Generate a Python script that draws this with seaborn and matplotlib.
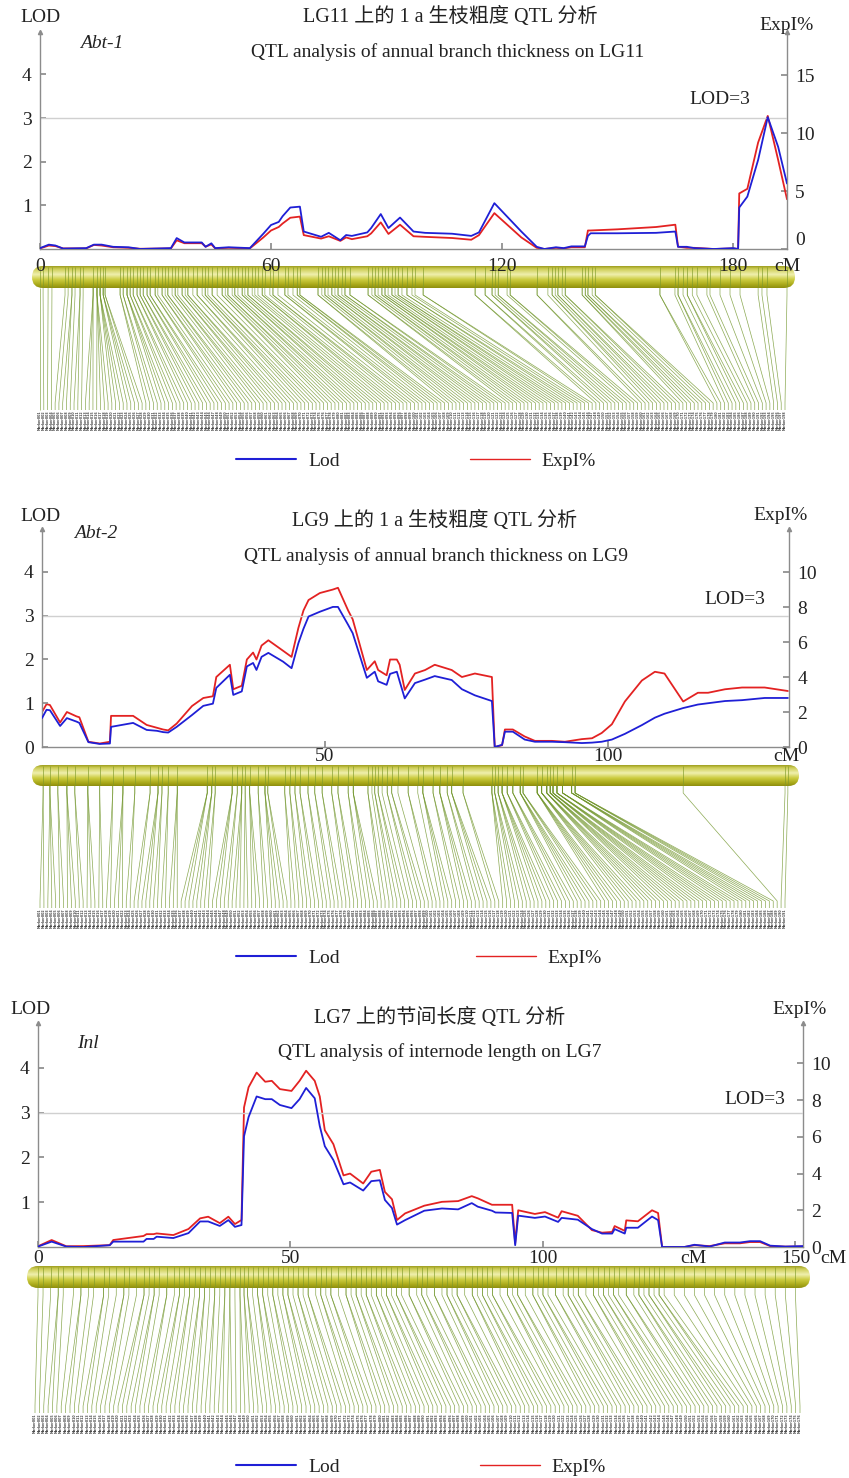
import numpy as np
import matplotlib
matplotlib.use("Agg")
import matplotlib.pyplot as plt
import seaborn as sns
from matplotlib.collections import LineCollection
from matplotlib.patches import FancyBboxPatch
from matplotlib.lines import Line2D

sns.set_theme(style="white")
plt.rcParams["font.family"] = ["Liberation Serif", "Noto Sans CJK SC", "DejaVu Sans"]

# ---------------- data ----------------
# LG11 (Abt-1)
lg11_cm = [0, 2.3, 4, 6, 12, 14, 16, 19, 23, 26, 34, 35.5, 37.5, 42, 43, 44.5, 45.5, 49, 54.5, 58,
           60, 62, 63, 65, 67.5, 68.5, 73, 75, 78, 79.5, 81, 85, 86, 88.5, 90.5, 93.5, 97, 100, 107, 112,
           114, 118, 125, 129, 131, 134, 136, 138, 141.5, 142.3, 143, 150, 160, 165, 165.7, 168, 170, 175, 180, 181.3,
           181.6, 183.7, 186.5, 189, 191.7, 194]
lg11_lod = [0.02, 0.1, 0.08, 0.01, 0.02, 0.1, 0.1, 0.05, 0.04, 0.0, 0.02, 0.25, 0.15, 0.15, 0.05, 0.13, 0.02, 0.04, 0.02, 0.35,
            0.55, 0.62, 0.75, 0.95, 0.97, 0.4, 0.28, 0.37, 0.2, 0.32, 0.3, 0.38, 0.48, 0.8, 0.48, 0.72, 0.4, 0.37, 0.35, 0.3,
            0.38, 1.05, 0.4, 0.05, 0.0, 0.04, 0.02, 0.06, 0.06, 0.3, 0.36, 0.36, 0.37, 0.4, 0.05, 0.05, 0.02, 0.0, 0.02, 0.0,
            0.95, 1.2, 2.04, 3.02, 2.34, 1.5]
lg11_expl = [0.05, 0.3, 0.25, 0.05, 0.05, 0.35, 0.3, 0.15, 0.1, 0.02, 0.05, 0.75, 0.5, 0.5, 0.2, 0.4, 0.05, 0.1, 0.05, 1.0,
             1.6, 1.9, 2.2, 2.7, 2.8, 1.2, 0.9, 1.1, 0.7, 1.0, 0.85, 1.1, 1.35, 2.3, 1.3, 2.1, 1.1, 1.05, 0.95, 0.8,
             1.2, 3.1, 1.0, 0.1, 0.0, 0.1, 0.05, 0.15, 0.15, 1.6, 1.6, 1.7, 1.9, 2.1, 0.2, 0.1, 0.1, 0.0, 0.05, 0.0,
             4.8, 5.2, 9.2, 11.5, 7.7, 4.3]
lg11_markers = [0, 0.8, 2.1, 3.1, 6.5, 7.3, 8.3, 9.1, 10.4, 11.2,
                13.8, 14.8, 15.6, 16.4, 16.9,
                20.8, 21.6, 22.6, 23.4, 24.2, 25.2, 26.0, 26.8, 27.8, 28.6,
                29.9, 30.6, 31.7, 32.5, 33.2, 34.3, 35.1, 35.8, 36.9, 37.7, 38.4, 39.7, 40.8, 42.1,
                42.9, 43.6, 44.7, 46.0, 47.3, 48.1, 48.8, 49.9, 50.6, 51.4, 52.5, 53.2, 54.0,
                55.1, 55.8, 56.6, 57.7, 58.4, 59.7, 60.5, 61.8, 63.6, 64.4, 65.7, 66.8, 67.5,
                72.2, 73.2, 74.0, 74.8, 75.8, 76.6, 77.4, 78.4, 79.2, 80.5,
                85.2, 86.2, 87.0, 87.8, 88.8, 89.6, 90.4, 91.4, 92.2, 93.0, 94.0, 95.3, 96.6, 97.4, 99.5,
                113.0, 115.6, 117.4, 118.2, 119.0, 121.3, 122.1,
                129.1, 131.9, 133.0, 133.8, 134.5, 135.6, 136.4,
                140.8, 141.6, 142.3, 143.4, 144.2,
                161.0, 164.9, 165.7, 167.0, 168.1, 169.4, 170.6, 173.2,
                174.0, 176.6, 179.2, 181.8, 186.5, 187.5, 188.8, 194.0]
lg11_counts = [1, 1, 1, 1, 1, 1, 2, 1, 2, 1,
               3, 4, 4, 3, 2,
               2, 2, 3, 2, 2, 2, 2, 2, 2, 2,
               2, 1, 2, 1, 2, 1, 2, 1, 2, 1, 2, 1, 2, 1,
               2, 1, 2, 1, 2, 1, 2, 1, 2, 1, 2, 1, 2,
               1, 1, 1, 2, 1, 1, 2, 1, 2, 1, 1, 2, 2,
               2, 1, 2, 1, 2, 1, 2, 1, 2, 2,
               2, 1, 2, 1, 2, 2, 1, 2, 1, 2, 1, 2, 1, 1, 2,
               2, 2, 2, 1, 2, 1, 2,
               2, 1, 2, 1, 2, 1, 2,
               2, 2, 2, 1, 2,
               2, 1, 2, 1, 2, 1, 1, 1,
               1, 1, 1, 1, 1, 1, 1, 1]

# LG9 (Abt-2)
lg9_cm = [0, 0.8, 1.4, 3.2, 4.4, 6.1, 6.6, 8.2, 10.2, 12.0,
          12.2, 16.1, 18.5, 20.3, 21.4, 22.3, 23.8, 26.5, 28.5, 30.2,
          30.8, 33.2, 33.8, 35.3, 36.2, 37.3, 37.9, 38.8, 40.0, 42.6,
          44.1, 45.3, 46.2, 47.1, 49.1, 51.4, 52.3, 54.1, 54.9, 57.4,
          58.8, 59.4, 60.9, 61.5, 62.7, 63.2, 64.1, 65.9, 67.7, 69.4,
          72.4, 74.2, 76.5, 79.5, 80.0, 81.3, 81.8, 83.2, 85.3, 87.1,
          90.1, 92.4, 95.4, 97.2, 98.9, 100.7, 103, 106, 108.3, 110,
          113.3, 115.9, 117.7, 120.7, 123.7, 127.7, 131.8]
lg9_lod = [0.66, 0.85, 0.84, 0.48, 0.66, 0.58, 0.55, 0.11, 0.07, 0.08,
           0.46, 0.55, 0.39, 0.37, 0.34, 0.33, 0.46, 0.73, 0.94, 0.99,
           1.35, 1.65, 1.19, 1.27, 1.84, 1.92, 1.76, 2.06, 2.15, 1.95,
           1.8, 2.37, 2.7, 2.98, 3.09, 3.2, 3.2, 2.79, 2.6, 1.58,
           1.72, 1.5, 1.42, 1.67, 1.72, 1.5, 1.11, 1.46, 1.54, 1.62,
           1.53, 1.32, 1.18, 1.05, 0.0, 0.05, 0.35, 0.35, 0.17, 0.12,
           0.12, 0.11, 0.09, 0.1, 0.12, 0.17, 0.3, 0.5, 0.67, 0.76,
           0.89, 0.97, 1.0, 1.05, 1.07, 1.12, 1.12]
lg9_expl = [2.0, 2.45, 2.4, 1.4, 2.0, 1.75, 1.7, 0.3, 0.2, 0.3,
            1.78, 1.78, 1.26, 1.1, 1.0, 0.95, 1.34, 2.34, 2.8, 2.9,
            4.0, 4.7, 3.3, 3.5, 5.0, 5.4, 5.0, 5.8, 6.1, 5.5,
            5.15, 6.8, 7.8, 8.4, 8.8, 9.0, 9.1, 7.8, 7.3, 4.4,
            4.9, 4.4, 4.1, 5.0, 5.0, 4.7, 3.26, 4.2, 4.4, 4.7,
            4.4, 4.0, 4.2, 4.0, 0.0, 0.1, 1.0, 1.0, 0.6, 0.35,
            0.35, 0.3, 0.45, 0.5, 0.8, 1.3, 2.6, 3.8, 4.3, 4.2,
            2.6, 3.1, 3.1, 3.3, 3.4, 3.4, 3.2]
lg9_markers = [0.2, 1.4, 2.8, 4.4, 5.8, 8.1, 10.2, 12.5, 14.3, 16.4, 19.1, 20.5, 21.2, 22.3, 23.9,
               29.2, 30.0, 30.6, 33.6, 34.5, 35.3, 35.9, 36.7, 38.2, 39.4, 39.9,
               42.9, 43.8, 44.7, 45.6, 47.0, 48.2, 49.5, 51.2, 52.3, 54.1, 55.0,
               57.6, 58.3, 58.8, 59.4, 60.1, 61.0, 61.8, 62.9, 64.7, 66.4,
               67.3, 69.1, 70.3, 71.6, 72.4, 74.4,
               79.5, 80.0, 80.6, 81.3, 82.2, 83.2, 84.5, 85.0,
               87.5, 88.3, 89.2, 89.8, 90.3, 91.0, 92.0, 93.6, 94.2,
               113.3, 131.3, 131.8]
lg9_counts = [2, 3, 2, 3, 2, 3, 2, 2, 3, 2, 2, 3, 2, 2, 3,
              3, 3, 2, 3, 2, 3, 2, 3, 2, 3, 2,
              2, 2, 2, 2, 2, 2, 2, 2, 2, 2, 3,
              2, 1, 2, 2, 1, 2, 2, 1, 2, 1,
              3, 2, 3, 2, 3, 2,
              3, 3, 3, 4, 3, 3, 4, 3,
              5, 5, 5, 5, 5, 5, 5, 5, 4,
              1, 1, 1]

# LG7 (Inl)
lg7_cm = [0, 2.7, 5.6, 9, 14.2, 14.9, 20.9, 21.5, 22.9, 23.5,
          26.8, 29.8, 32.1, 33.7, 36, 37.7, 39, 40.3, 40.8, 41.7,
          43.3, 45, 46.3, 47.9, 50.2, 51.8, 53.1, 54.8, 55.8, 56.8,
          58.5, 60.5, 61.8, 64.4, 66, 67.7, 68.7, 70.1, 71.1, 72.7,
          76.5, 80, 83.2, 85.9, 87.1, 89.9, 90.6, 93.9, 94.5, 95.1,
          98.4, 100.4, 103, 103.7, 106.9, 109.7, 111.7, 113.7, 114.2, 116.2,
          116.5, 118.8, 121.6, 122.8, 123.6, 128, 130, 133, 136, 139,
          141, 143, 145, 148, 151.5]
lg7_lod = [0.01, 0.12, 0.01, 0.0, 0.04, 0.12, 0.12, 0.18, 0.18, 0.23,
           0.2, 0.31, 0.57, 0.57, 0.47, 0.6, 0.45, 0.49, 2.47, 2.9,
           3.36, 3.3, 3.3, 3.17, 3.1, 3.3, 3.55, 3.32, 2.7, 2.25,
           1.94, 1.4, 1.44, 1.26, 1.47, 1.49, 1.05, 0.87, 0.5, 0.6,
           0.81, 0.86, 0.84, 0.98, 0.9, 0.81, 0.77, 0.76, 0.04, 0.7,
           0.65, 0.68, 0.56, 0.65, 0.61, 0.4, 0.3, 0.3, 0.4, 0.3,
           0.43, 0.43, 0.68, 0.6, 0.0, 0.0, 0.05, 0.01, 0.1, 0.1,
           0.13, 0.13, 0.03, 0.01, 0.02]
lg7_expl = [0.04, 0.38, 0.04, 0.05, 0.1, 0.38, 0.6, 0.7, 0.7, 0.74,
            0.65, 0.98, 1.56, 1.65, 1.3, 1.65, 1.25, 1.47, 7.6, 8.7,
            9.5, 9.0, 9.05, 8.6, 8.5, 9.05, 9.6, 9.05, 8.2, 6.36,
            5.6, 3.9, 4.0, 3.46, 4.1, 4.2, 3.0, 2.6, 1.47, 1.83,
            2.25, 2.46, 2.5, 2.77, 2.65, 2.3, 2.3, 2.3, 0.2, 2.0,
            1.8, 1.9, 1.6, 1.95, 1.7, 0.92, 0.78, 0.82, 1.14, 0.88,
            1.45, 1.4, 2.0, 1.85, 0.0, 0.0, 0.1, 0.05, 0.2, 0.2,
            0.27, 0.27, 0.05, 0.02, 0.03]
lg7_markers = [0, 1, 2.5, 4, 5, 7, 8.5, 10, 11, 13, 14, 15.5, 17, 18, 19.5, 21, 22, 23, 24, 25.5,
               27, 28, 29, 30, 31, 32, 33, 34, 35, 36, 37, 38, 39, 40, 40.8, 41.5, 42.5, 43.5, 44.5, 45.5,
               46.5, 47.5, 48.5, 49.5, 50.5, 51.5, 52.5, 53.5, 55, 56, 57, 58, 59.5, 61, 62, 63, 64, 65, 66, 67,
               68, 69, 70, 71, 72, 73.5, 75, 76, 77, 78.5, 80, 81, 82, 83, 84.5, 86, 87, 88, 89, 90,
               91.5, 93, 94, 95, 96.5, 98, 99, 100, 101, 102.5, 104, 105, 106, 107, 108.5, 110, 111, 112, 113, 114,
               115, 116.5, 118, 119, 120, 121, 122, 123, 124, 126, 128, 130, 132, 134, 136, 138, 140, 142, 144, 146,
               148, 150]
lg7_counts = [1, 1, 1, 2, 1, 1, 2, 1, 1, 2, 1, 1, 2, 1, 1, 2, 1, 2, 1, 2,
              1, 2, 1, 2, 1, 2, 2, 1, 2, 1, 2, 2, 1, 2, 2, 2, 1, 2, 2, 1,
              2, 1, 2, 2, 1, 2, 1, 2, 1, 2, 1, 2, 1, 2, 1, 2, 1, 2, 1, 2,
              1, 2, 1, 2, 1, 2, 1, 2, 1, 2, 1, 2, 1, 2, 1, 2, 1, 2, 1, 2,
              1, 2, 1, 2, 1, 2, 1, 2, 1, 2, 1, 2, 1, 2, 1, 2, 1, 2, 1, 2,
              1, 2, 1, 2, 1, 2, 1, 2, 1, 1, 1, 1, 1, 1, 1, 1, 1, 1, 1, 1,
              1, 1]

panels = [
    dict(cm=lg11_cm, lod=lg11_lod, expl=lg11_expl, markers=lg11_markers, counts=lg11_counts,
         zh="LG11 上的 1 a 生枝粗度 QTL 分析", en="QTL analysis of annual branch thickness on LG11",
         qtl="Abt-1", x0=40, x1=787, top=32, bot=249, xmax=194, lodmax=4.97, emax=18.75,
         lodticks=[1, 2, 3, 4], eticks=[0, 5, 10, 15], xticks=[0, 60, 120, 180], cmx=[194], xpad=6.5, zero_up=True,
         bar=(32, 795, 266, 288), lab=(40, 785, 410, 425), legy=461, legx=416, colsp=6.7,
         t_lod=(40, 18), t_exp=(787, 25), t_zh=(450, 17), t_en=(448, 52), t_qtl=(102, 44), t_l3=(720, 100)),
    dict(cm=lg9_cm, lod=lg9_lod, expl=lg9_expl, markers=lg9_markers, counts=lg9_counts,
         zh="LG9 上的 1 a 生枝粗度 QTL 分析", en="QTL analysis of annual branch thickness on LG9",
         qtl="Abt-2", x0=42, x1=789, top=529, bot=747, xmax=132, lodmax=4.98, emax=12.46,
         lodticks=[0, 1, 2, 3, 4], eticks=[0, 2, 4, 6, 8, 10], xticks=[50, 100], cmx=[131.5], xpad=1.0, zero_up=False,
         bar=(32, 799, 765, 786), lab=(40, 785, 908, 926), legy=958, legx=419, colsp=7.0,
         t_lod=(40, 517), t_exp=(781, 515), t_zh=(435, 521), t_en=(436, 556), t_qtl=(96, 534), t_l3=(735, 600)),
    dict(cm=lg7_cm, lod=lg7_lod, expl=lg7_expl, markers=lg7_markers, counts=lg7_counts,
         zh="LG7 上的节间长度 QTL 分析", en="QTL analysis of internode length on LG7",
         qtl="Inl", x0=38, x1=803, top=1023, bot=1247, xmax=151.5, lodmax=5.0, emax=12.2,
         lodticks=[1, 2, 3, 4], eticks=[0, 2, 4, 6, 8, 10], xticks=[0, 50, 100, 150], cmx=[129.7, 157.5], xpad=2.0,
         zero_up=False,
         bar=(27, 810, 1266, 1288), lab=(35, 800, 1413, 1432), legy=1467, legx=421, colsp=7.2,
         t_lod=(30, 1009), t_exp=(800, 1010), t_zh=(440, 1018), t_en=(440, 1052), t_qtl=(88, 1043), t_l3=(755, 1100)),
]

# ---------------- drawing ----------------
W, H = 849, 1478
fig = plt.figure(figsize=(W / 100, H / 100), dpi=100)
AX_C = "#8c8c8c"
BLUE = "#1f1fd6"
RED = "#e32222"
TXT = "#222222"
FS = 14


def px_axes(l, t, r, b):
    return fig.add_axes([l / W, 1 - b / H, (r - l) / W, (b - t) / H])


def ftext(x, y, s, **kw):
    fig.text(x / W, 1 - y / H, s, ha="center", va="center", **kw)


stops = np.array([0.0, 0.12, 0.38, 0.62, 0.85, 1.0])
cols = np.array([[0.62, 0.62, 0.12], [0.80, 0.80, 0.33], [0.94, 0.94, 0.68],
                 [0.80, 0.80, 0.25], [0.66, 0.66, 0.10], [0.56, 0.56, 0.06]])
tt = np.linspace(0, 1, 64)
grad = np.stack([np.interp(tt, stops, cols[:, k]) for k in range(3)], axis=1)[:, None, :]

for p in panels:
    ppc = (p["x1"] - p["x0"]) / p["xmax"]
    ax = px_axes(p["x0"], p["top"], p["x1"], p["bot"])
    ax2 = ax.twinx()
    sns.lineplot(x=p["cm"], y=p["lod"], ax=ax, color=BLUE, lw=1.3, estimator=None, sort=False, zorder=3)
    sns.lineplot(x=p["cm"], y=p["expl"], ax=ax2, color=RED, lw=1.3, estimator=None, sort=False, zorder=2)
    ax.set_zorder(ax2.get_zorder() + 1)
    ax.patch.set_visible(False)
    ax.axhline(3, color="#d0d0d0", lw=1.0, zorder=1)
    ax.set_xlim(0, p["xmax"])
    ax.set_ylim(0, p["lodmax"])
    ax2.set_ylim(0, p["emax"])
    for a in (ax, ax2):
        for s in a.spines.values():
            s.set_visible(False)
        a.grid(False)
        a.set_xlabel("")
        a.set_ylabel("")
    ax.spines["left"].set_visible(True)
    ax.spines["bottom"].set_visible(True)
    ax2.spines["right"].set_visible(True)
    for s in (ax.spines["left"], ax.spines["bottom"], ax2.spines["right"]):
        s.set_color(AX_C)
        s.set_linewidth(1.0)
    ax.set_yticks(p["lodticks"])
    ax.set_yticklabels([str(v) for v in p["lodticks"]])
    ax2.set_yticks(p["eticks"])
    ax2.set_yticklabels([str(v) for v in p["eticks"]])
    ax.set_xticks(p["xticks"])
    ax.set_xticklabels([str(v) for v in p["xticks"]])
    ax.tick_params(axis="y", left=True, direction="in", length=4, color=AX_C, labelsize=FS, pad=6, labelcolor=TXT)
    ax.tick_params(axis="x", bottom=True, direction="in", length=4, color=AX_C, labelsize=FS, pad=p["xpad"],
                   labelcolor=TXT)
    ax2.tick_params(axis="y", right=True, direction="in", length=4, color=AX_C, labelsize=FS, pad=6, labelcolor=TXT)
    if p["zero_up"]:
        ax2.get_yticklabels()[0].set_verticalalignment("bottom")
    for xc in p["cmx"]:
        ax.annotate("cM", (xc, 0), xycoords=("data", "axes fraction"), xytext=(0, -p["xpad"]),
                    textcoords="offset points", ha="center", va="top", fontsize=FS, color=TXT,
                    annotation_clip=False)
    # arrow heads at axis tops
    ax.plot([0], [1], marker="^", ms=3, color=AX_C, transform=ax.transAxes, clip_on=False)
    ax.plot([1], [1], marker="^", ms=3, color=AX_C, transform=ax.transAxes, clip_on=False)

    # texts
    ftext(*p["t_lod"], "LOD", fontsize=FS, color=TXT)
    ftext(*p["t_exp"], "ExpI%", fontsize=FS, color=TXT)
    ftext(*p["t_zh"], p["zh"], fontsize=14.5, color=TXT)
    ftext(*p["t_en"], p["en"], fontsize=FS, color=TXT)
    ftext(*p["t_qtl"], p["qtl"], fontsize=FS, color=TXT, style="italic")
    ftext(*p["t_l3"], "LOD=3", fontsize=FS, color=TXT)

    # chromosome + marker fan
    bx0, bx1, bt, bb = p["bar"]
    lx0, lx1, lt, lb = p["lab"]
    cl, cr = 15, 835
    cax = px_axes(cl, bt, cr, lb + 4)
    hc = lb + 4 - bt
    cax.axis("off")
    bar_h = bb - bt
    c0 = (bx0 - p["x0"]) / ppc
    c1 = (bx1 - p["x0"]) / ppc
    patch = FancyBboxPatch((c0, 0), c1 - c0, bar_h,
                           boxstyle=f"round,pad=0,rounding_size={bar_h / 2 / ppc}",
                           mutation_aspect=ppc, facecolor="none", edgecolor="none")
    cax.add_patch(patch)
    im = cax.imshow(grad, extent=[c0, c1, bar_h, 0], aspect="auto", interpolation="bilinear", zorder=1)
    im.set_clip_path(patch)
    cax.set_xlim((cl - p["x0"]) / ppc, (cr - p["x0"]) / ppc)
    cax.set_ylim(hc, 0)

    pos = np.repeat(np.array(p["markers"], dtype=float), p["counts"])
    n = len(pos)
    labx = np.linspace((lx0 - p["x0"]) / ppc, (lx1 - p["x0"]) / ppc, n)
    ytop = lt - bt
    ticks = [[(m, 1), (m, bar_h - 1)] for m in p["markers"]]
    cax.add_collection(LineCollection(ticks, colors="#7f9a2a", linewidths=0.6, alpha=0.75, zorder=2))
    segs = [[(m, bar_h), (m, bar_h + 7), (lxx, ytop - 7), (lxx, ytop)] for m, lxx in zip(pos, labx)]
    cax.add_collection(LineCollection(segs, colors="#6f9428", linewidths=0.5, alpha=0.8, zorder=2))
    for i, lxx in enumerate(labx):
        cax.text(lxx, ytop + 0.5, f"Marker{i + 1:03d}", rotation=90, fontsize=2.3, color="#4a4a4a",
                 ha="center", va="top", family="DejaVu Sans", weight="bold")

    # legend
    handles = [Line2D([], [], color=BLUE, lw=1.5), Line2D([], [], color=RED, lw=1.0)]
    fig.legend(handles, ["Lod", "ExpI%"], loc="center", bbox_to_anchor=(p["legx"] / W, 1 - p["legy"] / H),
               ncol=2, frameon=False, handlelength=3.1, columnspacing=p["colsp"], handletextpad=0.6, fontsize=FS,
               labelcolor=TXT)

fig.savefig("out.png", dpi=100)
